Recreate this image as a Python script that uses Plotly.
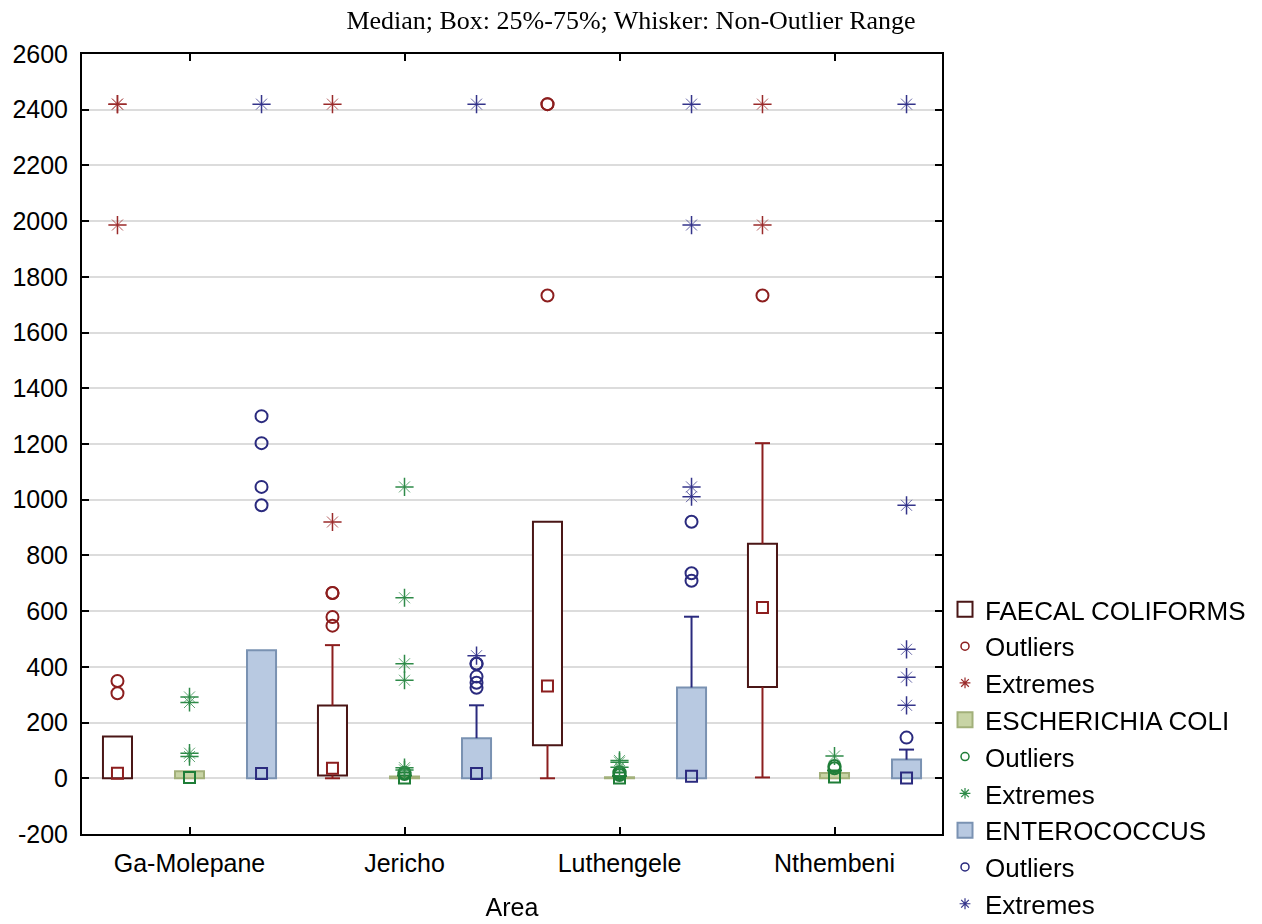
import plotly.graph_objects as go

# ---- data -------------------------------------------------------------
areas = ["Ga-Molepane", "Jericho", "Luthengele", "Nthembeni"]

# FAECAL COLIFORMS
fc_q1 = [0, 10, 119, 328]
fc_median = [18, 36, 331, 613]
fc_q3 = [150, 261, 921, 842]
fc_low = [0, 0, 0, 3]
fc_high = [150, 478, 921, 1203]
fc_outliers = [[349, 305], [665, 665, 579, 548], [2420, 2420, 1733], [1733]]
fc_extremes = [[2420, 2420, 1986], [2420, 920], [], [2420, 1986]]

# ESCHERICHIA COLI
ec_q1 = [0, 0, 0, 0]
ec_median = [3, 1, 1, 5]
ec_q3 = [25, 6, 4, 19]
ec_low = [0, 0, 0, 0]
ec_high = [25, 10, 8, 28]
ec_outliers = [[], [15, 20], [12, 18, 22], [36, 44]]
ec_extremes = [[292, 272, 90, 78], [1046, 648, 411, 352, 30, 38], [40, 58, 64], [80]]

# ENTEROCOCCUS
ent_q1 = [0, 0, 0, 0]
ent_median = [17, 17, 7, 1]
ent_q3 = [460, 144, 326, 67]
ent_low = [0, 0, 0, 0]
ent_high = [460, 262, 580, 103]
ent_outliers = [[1300, 1203, 1046, 980], [411, 411, 365, 343, 325], [921, 736, 709], [146]]
ent_extremes = [[2420], [2420, 440], [2420, 1986, 1046, 1011], [2420, 980, 463, 363, 262]]

y_ticks = list(range(-200, 2601, 200))

# ---- styling ------------------------------------------------------------
series = [
    dict(name="FAECAL COLIFORMS", q1=fc_q1, med=fc_median, q3=fc_q3, lo=fc_low, hi=fc_high,
         out=fc_outliers, ext=fc_extremes, fill="#FFFFFF", edge="#4A1616", color="#8C1E1E",
         ext_color="#9A2A2A"),
    dict(name="ESCHERICHIA COLI", q1=ec_q1, med=ec_median, q3=ec_q3, lo=ec_low, hi=ec_high,
         out=ec_outliers, ext=ec_extremes, fill="#C8D4A5", edge="#A2B07A", color="#1E7D37",
         ext_color="#2E8A48"),
    dict(name="ENTEROCOCCUS", q1=ent_q1, med=ent_median, q3=ent_q3, lo=ent_low, hi=ent_high,
         out=ent_outliers, ext=ent_extremes, fill="#B8C9E1", edge="#7A92B2", color="#2A2A7E",
         ext_color="#34348A"),
]
offsets = [-0.335, 0.0, 0.335]
box_w = 0.135
cap_w = 0.07
FONT = "Liberation Sans, Arial, sans-serif"

fig = go.Figure()
rank = 1
for s, off in zip(series, offsets):
    xs = [i + off for i in range(len(areas))]

    # legend swatch for the box
    fig.add_trace(go.Scatter(
        x=[None], y=[None], mode="markers", name=s["name"], legendrank=rank,
        marker=dict(symbol="square", size=15, color=s["fill"],
                    line=dict(color=s["edge"], width=2)),
    ))
    # legend entries for outliers / extremes
    fig.add_trace(go.Scatter(
        x=[None], y=[None], mode="markers", name="Outliers", legendrank=rank + 1,
        marker=dict(symbol="circle-open", size=8, color=s["color"], line=dict(width=1.5)),
    ))
    fig.add_trace(go.Scatter(
        x=[None], y=[None], mode="markers", name="Extremes", legendrank=rank + 2,
        marker=dict(symbol="asterisk-open", size=9, color=s["ext_color"], line=dict(width=1.2)),
    ))
    rank += 3

    # boxes (25%-75%)
    fig.add_trace(go.Bar(
        x=xs, y=[b - a for a, b in zip(s["q1"], s["q3"])], base=s["q1"], width=box_w,
        marker=dict(color=s["fill"], line=dict(color=s["edge"], width=2)),
        showlegend=False, hoverinfo="skip",
    ))

    # whiskers with caps
    wx, wy = [], []
    for x, a, b, lo, hi in zip(xs, s["q1"], s["q3"], s["lo"], s["hi"]):
        if hi > b:
            wx += [x, x, None, x - cap_w / 2, x + cap_w / 2, None]
            wy += [b, hi, None, hi, hi, None]
        if lo < a:
            wx += [x, x, None, x - cap_w / 2, x + cap_w / 2, None]
            wy += [lo, a, None, lo, lo, None]
    fig.add_trace(go.Scatter(
        x=wx, y=wy, mode="lines", line=dict(color=s["color"], width=2),
        showlegend=False, hoverinfo="skip",
    ))

    # medians
    fig.add_trace(go.Scatter(
        x=xs, y=s["med"], mode="markers", showlegend=False,
        marker=dict(symbol="square-open", size=11, color=s["color"], line=dict(width=2)),
    ))

    # outliers
    ox = [x for x, vals in zip(xs, s["out"]) for _ in vals]
    oy = [v for vals in s["out"] for v in vals]
    fig.add_trace(go.Scatter(
        x=ox, y=oy, mode="markers", showlegend=False,
        marker=dict(symbol="circle-open", size=12, color=s["color"], line=dict(width=2)),
    ))

    # extremes: an upright cross with faint diagonal strokes
    ex = [x for x, vals in zip(xs, s["ext"]) for _ in vals]
    ey = [v for vals in s["ext"] for v in vals]
    fig.add_trace(go.Scatter(
        x=ex, y=ey, mode="markers", showlegend=False, opacity=0.75,
        marker=dict(symbol="x-thin-open", size=11, color=s["ext_color"], line=dict(width=1)),
    ))
    fig.add_trace(go.Scatter(
        x=ex, y=ey, mode="markers", showlegend=False,
        marker=dict(symbol="cross-thin-open", size=13, color=s["ext_color"], line=dict(width=1.5)),
    ))

fig.update_layout(
    width=1262, height=924,
    margin=dict(l=82, r=320, t=54, b=90, pad=0, autoexpand=False),
    paper_bgcolor="white", plot_bgcolor="white",
    barmode="overlay",
    font=dict(family=FONT, size=25, color="black"),
    title=dict(text="Median; Box: 25%-75%; Whisker: Non-Outlier Range",
               font=dict(family="Liberation Serif, Times New Roman, serif", size=26, color="black"),
               x=0.5, xref="container", xanchor="center",
               y=1 - 20 / 924, yref="container", yanchor="middle"),
    legend=dict(x=1.0035, xanchor="left", y=0.318, yanchor="top",
                font=dict(family=FONT, size=26, color="black"),
                bgcolor="rgba(0,0,0,0)", borderwidth=0, tracegroupgap=0,
                itemclick=False),
    showlegend=True,
)
fig.update_xaxes(
    range=[-0.5, 3.5], tickmode="array", tickvals=list(range(len(areas))), ticktext=areas,
    ticks="inside", ticklen=7, tickwidth=2, tickcolor="black",
    showline=True, linewidth=2, linecolor="black", mirror="allticks",
    showgrid=False, zeroline=False, ticklabelstandoff=6, automargin=False,
    title=dict(text="Area", font=dict(family=FONT, size=25), standoff=22),
)
fig.update_yaxes(
    range=[-200, 2600], tickmode="array", tickvals=y_ticks, ticktext=[str(v) for v in y_ticks],
    ticks="inside", ticklen=7, tickwidth=2, tickcolor="black",
    showline=True, linewidth=2, linecolor="black", mirror="allticks",
    showgrid=True, gridcolor="#DCDCDC", gridwidth=1.5, zeroline=False,
    ticklabelstandoff=7, automargin=False,
)

fig.write_html("out.html")
